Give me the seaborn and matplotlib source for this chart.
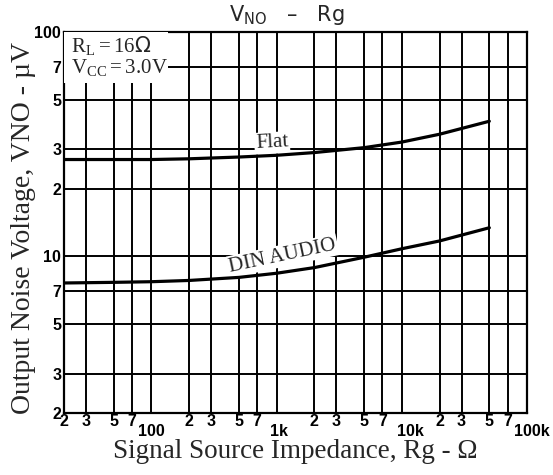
import matplotlib
matplotlib.use("Agg")
import matplotlib.pyplot as plt
from matplotlib.ticker import FixedLocator, FixedFormatter
from matplotlib.patches import Rectangle
from matplotlib.transforms import ScaledTranslation
import seaborn as sns
import pandas as pd

# ---- data ----
rg = [20, 50, 100, 200, 500, 1000, 2000, 5000, 10000, 20000, 50000]
vno_flat = [27.0, 27.0, 27.0, 27.2, 27.7, 28.2, 29.0, 30.5, 32.3, 35.0, 40.0]
vno_din = [7.6, 7.65, 7.7, 7.8, 8.05, 8.4, 8.9, 9.9, 10.8, 11.7, 13.4]

x_major = [100, 1000, 10000, 100000]
x_major_labels = ["100", "1k", "10k", "100k"]
x_minor = [20, 30, 50, 70, 200, 300, 500, 700, 2000, 3000, 5000, 7000,
           20000, 30000, 50000, 70000]
x_minor_labels = ["2", "3", "5", "7"] * 4
y_major = [10, 100]
y_major_labels = ["10", "100"]
y_minor = [2, 3, 5, 7, 20, 30, 50, 70]
y_minor_labels = ["2", "3", "5", "7"] * 2

sns.set_style("white")
plt.rcParams["font.family"] = ["DejaVu Sans"]
plt.rcParams["mathtext.fontset"] = "custom"

df = pd.DataFrame({"rg": rg * 2,
                   "vno": vno_flat + vno_din,
                   "curve": ["Flat"] * len(rg) + ["DIN AUDIO"] * len(rg)})

fig = plt.figure(figsize=(5.53, 4.75), dpi=100)
ax = fig.add_axes([64 / 553, 1 - 413 / 475, 463 / 553, 381 / 475])

sns.lineplot(data=df, x="rg", y="vno", units="curve", estimator=None,
             color="black", lw=2.3, ax=ax, zorder=4, legend=False)

ax.set_xscale("log")
ax.set_yscale("log")
ax.set_xlim(20, 100000)
ax.set_ylim(2, 100)

ax.xaxis.set_major_locator(FixedLocator(x_major))
ax.xaxis.set_major_formatter(FixedFormatter(x_major_labels))
ax.xaxis.set_minor_locator(FixedLocator(x_minor))
ax.xaxis.set_minor_formatter(FixedFormatter(x_minor_labels))
ax.yaxis.set_major_locator(FixedLocator(y_major))
ax.yaxis.set_major_formatter(FixedFormatter(y_major_labels))
ax.yaxis.set_minor_locator(FixedLocator(y_minor))
ax.yaxis.set_minor_formatter(FixedFormatter(y_minor_labels))

ax.tick_params(which="both", length=0, labelsize=11.5, colors="black")
ax.tick_params(axis="x", which="minor", pad=1)
ax.tick_params(axis="x", which="major", pad=8)
ax.tick_params(axis="y", which="both", pad=2)
for lab in ax.get_xticklabels(which="both") + ax.get_yticklabels(which="both"):
    lab.set_fontweight("bold")
    lab.set_family("Liberation Sans")
# the "k" labels sit a little to the right of their grid line
shifts = [0, 2, 9, 5]
for tick, dx in zip(ax.xaxis.get_major_ticks(), shifts):
    if dx:
        tick.label1.set_transform(tick.label1.get_transform()
                                  + ScaledTranslation(dx / 100, 0, fig.dpi_scale_trans))

ax.grid(which="both", color="black", lw=1.4)
for s in ax.spines.values():
    s.set_color("black")
    s.set_linewidth(1.6)
ax.set_xlabel("")
ax.set_ylabel("")

# white block behind the condition text
ax.add_patch(Rectangle((0, 0.866), 0.225, 0.134, transform=ax.transAxes,
                       facecolor="white", edgecolor="none", zorder=3))
ax.text(0.016, 0.962, r"R$_{\mathregular{L}}$$\,$=$\,$16$\Omega$", transform=ax.transAxes,
        family="Liberation Serif", fontsize=15, va="center", ha="left", zorder=5)
ax.text(0.016, 0.905, r"V$_{\mathregular{CC}}$$\,$=$\,$3.0V", transform=ax.transAxes,
        family="Liberation Serif", fontsize=15, va="center", ha="left", zorder=5)

# curve labels (white background hides grid lines, but sits under the curves)
ax.text(920, 32.0, "Flat", family="Liberation Serif", fontsize=15,
        rotation=3, ha="center", va="center", zorder=3.5,
        bbox=dict(facecolor="white", edgecolor="none", pad=1.0))
ax.text(1120, 10.05, "DIN AUDIO", family="Liberation Serif", fontsize=15,
        rotation=12, ha="center", va="center", zorder=3.5,
        bbox=dict(facecolor="white", edgecolor="none", pad=1.0))

fig.text(287 / 553, 1 - 15 / 475, r"V$_{\mathregular{NO}}$   –   Rg",
         family="DejaVu Sans", fontsize=15, ha="center", va="center")
fig.text(295 / 553, 1 - 452 / 475, "Signal Source Impedance, Rg - Ω",
         family="Liberation Serif", fontsize=19.5, ha="center", va="center")
fig.text(24 / 553, 1 - 228 / 475, "Output Noise Voltage, VNO - µV",
         family="Liberation Serif", fontsize=20, ha="center", va="center",
         rotation=90)

fig.savefig("out.png", dpi=100, facecolor="white")
